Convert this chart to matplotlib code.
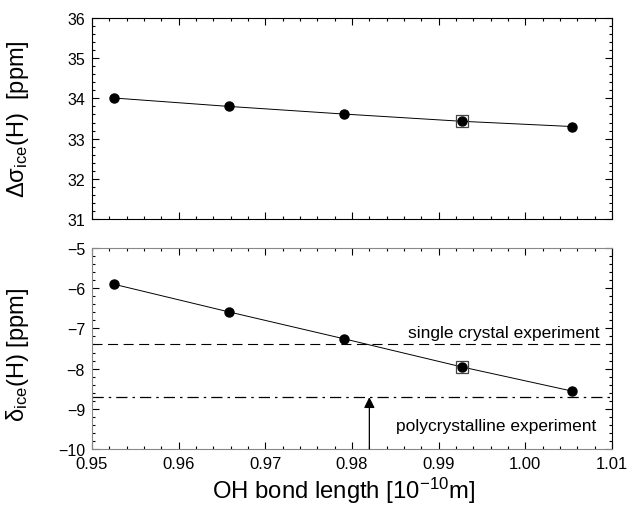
import matplotlib
matplotlib.use("Agg")
import matplotlib.pyplot as plt
from matplotlib.ticker import MultipleLocator

plt.rcParams['font.family'] = ['Liberation Sans', 'DejaVu Sans']
plt.rcParams['mathtext.fontset'] = 'custom'
plt.rcParams['mathtext.rm'] = 'Liberation Sans'
plt.rcParams['mathtext.it'] = 'Liberation Sans:italic'
plt.rcParams['mathtext.sf'] = 'Liberation Sans'

# --- data ---
bond_length = [0.9525, 0.9658, 0.9791, 0.9927, 1.0054]
delta_sigma = [34.01, 33.80, 33.61, 33.43, 33.30]
delta_shift = [-5.90, -6.59, -7.26, -7.96, -8.56]
marked_idx = 3                      # point with the square around it
single_crystal = -7.39
polycrystalline = -8.71
arrow_x = 0.982

fig = plt.figure(figsize=(6.29, 5.06), dpi=100)
ax1 = fig.add_axes([0.1463, 0.5652, 0.8267, 0.3973])
ax2 = fig.add_axes([0.1463, 0.1107, 0.8267, 0.3972])

for ax in (ax1, ax2):
    ax.plot(bond_length, delta_sigma if ax is ax1 else delta_shift,
            color='black', lw=0.7, marker='o', ms=6.5, mfc='black', mec='black')
    ax.set_xlim(0.95, 1.01)
    ax.xaxis.set_major_locator(MultipleLocator(0.01))
    ax.xaxis.set_minor_locator(MultipleLocator(0.002))
    ax.yaxis.set_major_locator(MultipleLocator(1))
    ax.yaxis.set_minor_locator(MultipleLocator(0.2))
    ax.tick_params(which='both', direction='in', top=True, right=True, width=0.8)
    ax.tick_params(which='major', length=5, labelsize=11.5)
    ax.tick_params(which='minor', length=2.5)
    ax.tick_params(axis='x', labelsize=12, pad=5)
    ax.tick_params(axis='y', pad=5)

# open squares around the marked point
ax1.plot(bond_length[marked_idx], delta_sigma[marked_idx], marker='s', ms=9,
         mfc='none', mec='#444444', mew=0.9)
ax2.plot(bond_length[marked_idx], delta_shift[marked_idx], marker='s', ms=9,
         mfc='none', mec='#444444', mew=0.9)

ax1.set_ylim(31, 36)
ax1.tick_params(axis='x', labelbottom=False)
ax1.set_ylabel('\u0394\u03c3$_{\\rm ice}$(H)  [ppm]', fontsize=17)
ax1.yaxis.set_label_coords(-0.118, 0.5)

ax2.set_ylim(-10, -5)
ax2.set_yticks([-10, -9, -8, -7, -6, -5])
ax2.set_yticklabels(['\u221210', '\u22129', '\u22128', '\u22127', '\u22126', '\u22125'])
ax2.set_ylabel('\u03b4$_{\\rm ice}$(H) [ppm]', fontsize=17)
ax2.yaxis.set_label_coords(-0.118, 0.47)
ax2.set_xlabel(r'OH bond length [10$^{-10}$m]', fontsize=17.2)
ax2.xaxis.set_label_coords(0.483, -0.128)
ax2.set_xticks([0.95, 0.96, 0.97, 0.98, 0.99, 1.00, 1.01])
ax2.set_xticklabels(['0.95', '0.96', '0.97', '0.98', '0.99', '1.00', '1.01'])

# experiment reference lines
ax2.axhline(single_crystal, color='black', lw=0.8, ls=(0, (9, 5)))
ax2.axhline(polycrystalline, color='black', lw=0.9, ls=(0, (9, 4, 2, 4)))
ax2.text(1.0085, single_crystal + 0.1, 'single crystal experiment',
         ha='right', va='bottom', fontsize=12.5)
ax2.text(1.0082, -9.42, 'polycrystalline experiment',
         ha='right', va='center', fontsize=12.5)
ax2.annotate('', xy=(arrow_x, polycrystalline), xytext=(arrow_x, -10),
             arrowprops=dict(arrowstyle='-|>', color='#555555', lw=0.9,
                             mutation_scale=16, fc='black', ec='black',
                             shrinkA=0, shrinkB=0))

for s in ('left', 'top', 'bottom'):
    ax2.spines[s].set_color('#888888')

fig.savefig('out.png', dpi=100)
